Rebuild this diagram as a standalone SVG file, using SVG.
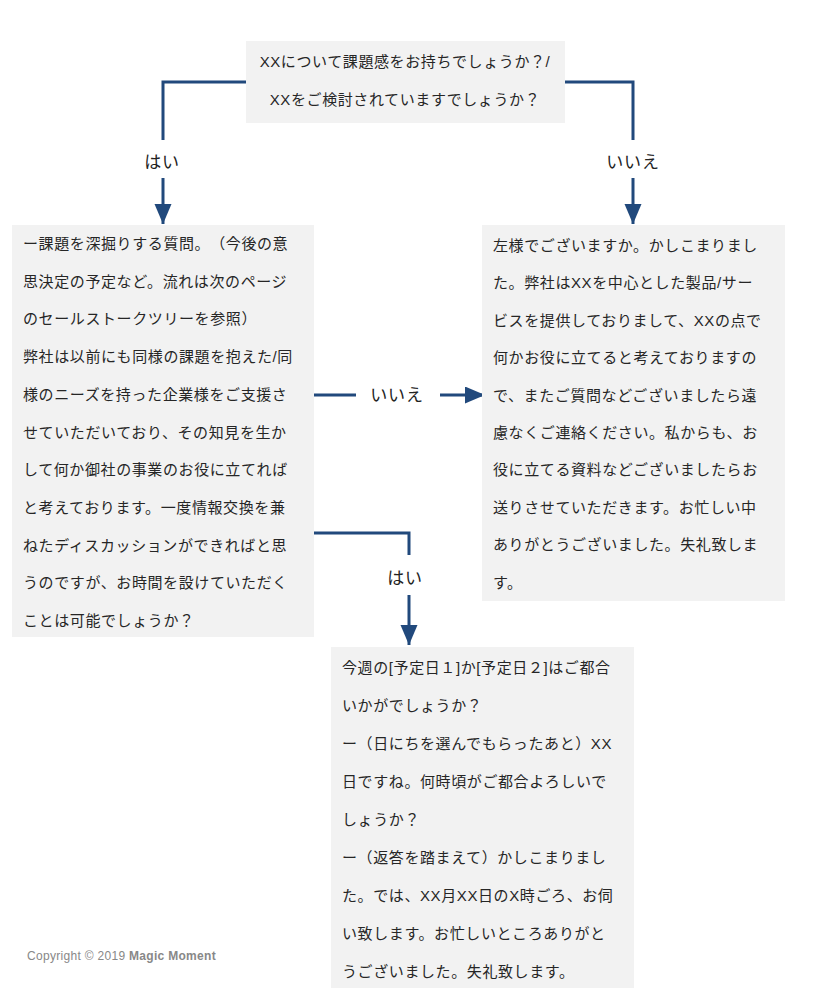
<svg xmlns="http://www.w3.org/2000/svg" width="821" height="1000" viewBox="0 0 821 1000">
<style>
.box{fill:#f2f2f2}
.t{font-family:"Liberation Sans","Noto Sans CJK JP",sans-serif;font-size:15px;letter-spacing:0.6px;fill:#262626;text-spacing-trim:space-all}
.lbl{font-family:"Liberation Sans","Noto Sans CJK JP",sans-serif;font-size:17px;letter-spacing:0.8px;fill:#222;text-anchor:middle}
.c{fill:none;stroke:#21497c;stroke-width:3}
.copy{font-family:"Liberation Sans","Noto Sans",sans-serif;font-size:12px;letter-spacing:0.3px;fill:#888}
</style>
<defs>
<marker id="ah" markerUnits="userSpaceOnUse" markerWidth="22" markerHeight="18" refX="20" refY="8.5" orient="auto">
<path d="M0,0 L20,8.5 L0,17 z" fill="#21497c"/>
</marker>
</defs>
<rect width="821" height="1000" fill="#fff"/>
<g id="connectors">
<path class="c" d="M246,82 H163 V140"/>
<path class="c" d="M163,178 V224" marker-end="url(#ah)"/>
<path class="c" d="M565,82 H633 V140"/>
<path class="c" d="M633,178 V224" marker-end="url(#ah)"/>
<path class="c" d="M314,395 H356"/>
<path class="c" d="M440,395 H485" marker-end="url(#ah)"/>
<path class="c" d="M313,533 H409 V555"/>
<path class="c" d="M409,595 V645" marker-end="url(#ah)"/>
<text class="lbl" x="162" y="168">はい</text>
<text class="lbl" x="633" y="168">いいえ</text>
<text class="lbl" x="397" y="401">いいえ</text>
<text class="lbl" x="405" y="584">はい</text>
</g>
<g id="q1">
<rect class="box" x="246" y="41" width="319" height="82"/>
<text class="t" text-anchor="middle"><tspan x="405" y="67">XXについて課題感をお持ちでしょうか？/</tspan><tspan x="405" y="105">XXをご検討されていますでしょうか？</tspan></text>
</g>
<g id="yes1">
<rect class="box" x="12" y="225" width="302" height="412"/>
<text class="t">
<tspan x="23" y="249">ー課題を深掘りする質問。（今後の意</tspan>
<tspan x="23" y="286.7">思決定の予定など。流れは次のページ</tspan>
<tspan x="23" y="324.4">のセールストークツリーを参照）</tspan>
<tspan x="23" y="362.1">弊社は以前にも同様の課題を抱えた/同</tspan>
<tspan x="23" y="399.8">様のニーズを持った企業様をご支援さ</tspan>
<tspan x="23" y="437.5">せていただいており、その知見を生か</tspan>
<tspan x="23" y="475.2">して何か御社の事業のお役に立てれば</tspan>
<tspan x="23" y="512.9">と考えております。一度情報交換を兼</tspan>
<tspan x="23" y="550.6">ねたディスカッションができればと思</tspan>
<tspan x="23" y="588.3">うのですが、お時間を設けていただく</tspan>
<tspan x="23" y="626">ことは可能でしょうか？</tspan>
</text>
</g>
<g id="no1">
<rect class="box" x="482" y="225" width="303" height="376"/>
<text class="t">
<tspan x="493" y="251">左様でございますか。かしこまりまし</tspan>
<tspan x="493" y="288.4">た。弊社はXXを中心とした製品/サー</tspan>
<tspan x="493" y="325.8">ビスを提供しておりまして、XXの点で</tspan>
<tspan x="493" y="363.2">何かお役に立てると考えておりますの</tspan>
<tspan x="493" y="400.6">で、またご質問などございましたら遠</tspan>
<tspan x="493" y="438">慮なくご連絡ください。私からも、お</tspan>
<tspan x="493" y="475.4">役に立てる資料などございましたらお</tspan>
<tspan x="493" y="512.8">送りさせていただきます。お忙しい中</tspan>
<tspan x="493" y="550.2">ありがとうございました。失礼致しま</tspan>
<tspan x="493" y="587.6">す。</tspan>
</text>
</g>
<g id="yes2">
<rect class="box" x="331" y="647" width="303" height="341"/>
<text class="t">
<tspan x="342" y="673">今週の[予定日１]か[予定日２]はご都合</tspan>
<tspan x="342" y="711">いかがでしょうか？</tspan>
<tspan x="342" y="749">ー（日にちを選んでもらったあと）XX</tspan>
<tspan x="342" y="787">日ですね。何時頃がご都合よろしいで</tspan>
<tspan x="342" y="825">しょうか？</tspan>
<tspan x="342" y="863">ー（返答を踏まえて）かしこまりまし</tspan>
<tspan x="342" y="901">た。では、XX月XX日のX時ごろ、お伺</tspan>
<tspan x="342" y="939">い致します。お忙しいところありがと</tspan>
<tspan x="342" y="977">うございました。失礼致します。</tspan>
</text>
</g>
<text class="copy" x="27" y="960">Copyright © 2019 <tspan font-weight="bold">Magic Moment</tspan></text>
</svg>
